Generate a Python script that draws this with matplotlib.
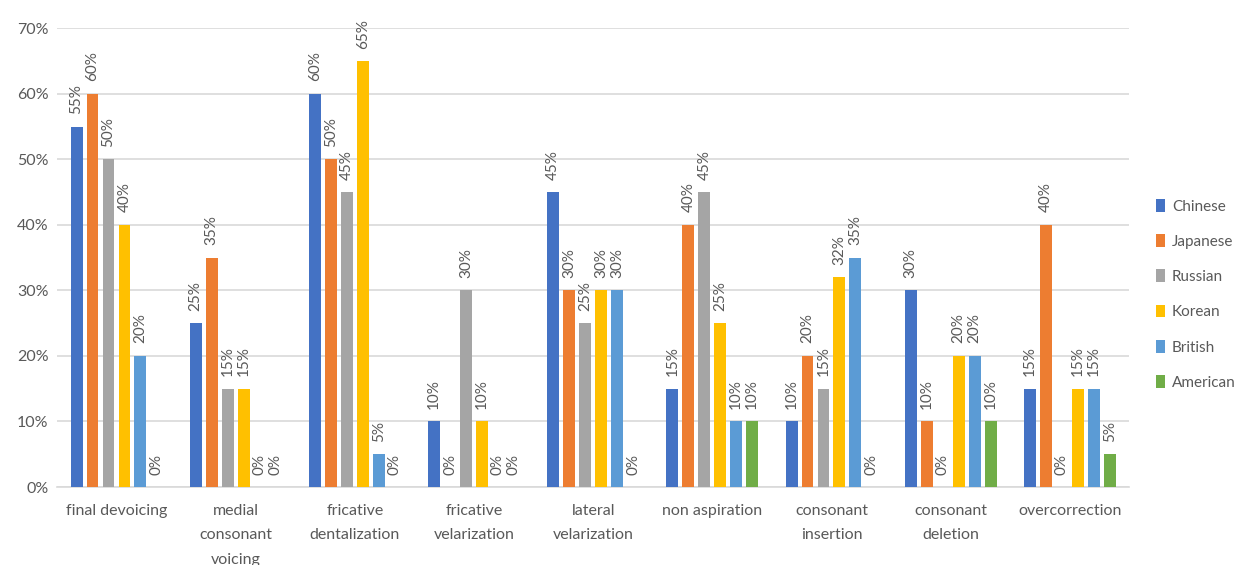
import numpy as np
import matplotlib
matplotlib.use("Agg")
import matplotlib.pyplot as plt
from matplotlib.ticker import FuncFormatter

plt.rcParams['font.family'] = ['Lato', 'DejaVu Sans']

categories = ["final devoicing", "medial\nconsonant\nvoicing", "fricative\ndentalization",
              "fricative\nvelarization", "lateral\nvelarization", "non aspiration",
              "consonant\ninsertion", "consonant\ndeletion", "overcorrection"]

chinese  = [55, 25, 60, 10, 45, 15, 10, 30, 15]
japanese = [60, 35, 50,  0, 30, 40, 20, 10, 40]
russian  = [50, 15, 45, 30, 25, 45, 15,  0,  0]
korean   = [40, 15, 65, 10, 30, 25, 32, 20, 15]
british  = [20,  0,  5,  0, 30, 10, 35, 20, 15]
american = [ 0,  0,  0,  0,  0, 10,  0, 10,  5]

groups = ["Chinese", "Japanese", "Russian", "Korean", "British", "American"]
series = [chinese, japanese, russian, korean, british, american]
colors = ["#4472C4", "#ED7D31", "#A5A5A5", "#FFC000", "#5B9BD5", "#70AD47"]

text_color = "#595959"

fig = plt.figure(figsize=(12.37, 5.65), dpi=100)
ax = fig.add_axes([0.046, 0.138, 0.867, 0.812])

x = np.arange(len(categories))
step = 0.134
width = 0.1

for i, (name, vals, c) in enumerate(zip(groups, series, colors)):
    pos = x + (i - 2.5) * step
    bars = ax.bar(pos, vals, width, color=c, label=name, zorder=3)
    for b, v in zip(bars, vals):
        ax.annotate(f"{v}%", (b.get_x() + b.get_width() / 2, v),
                    xytext=(0, 9), textcoords="offset points",
                    rotation=90, ha="center", va="bottom",
                    fontsize=11, color=text_color)

ax.set_xlim(-0.5, len(categories) - 0.5)
ax.set_ylim(0, 70)
ax.set_yticks(range(0, 71, 10))
ax.yaxis.set_major_formatter(FuncFormatter(lambda v, p: f"{int(v)}%"))
ax.grid(axis="y", color="#D9D9D9", linewidth=1.2, zorder=0)
ax.set_axisbelow(True)

for s in ["top", "right", "left"]:
    ax.spines[s].set_visible(False)
ax.spines["bottom"].set_color("#D9D9D9")
ax.spines["bottom"].set_linewidth(1.2)

ax.set_xticks(x)
ax.set_xticklabels(categories, fontsize=11.5, color=text_color, linespacing=1.95)
ax.tick_params(axis="x", length=0, pad=12)
ax.tick_params(axis="y", length=0, labelsize=11.5, labelcolor=text_color, pad=6)

ax.legend(loc="center left", bbox_to_anchor=(1.012, 0.42), frameon=False,
          fontsize=11, labelcolor=text_color, handlelength=0.6, handleheight=0.9,
          handletextpad=0.45, labelspacing=1.35)

fig.savefig("out.png", dpi=100)
